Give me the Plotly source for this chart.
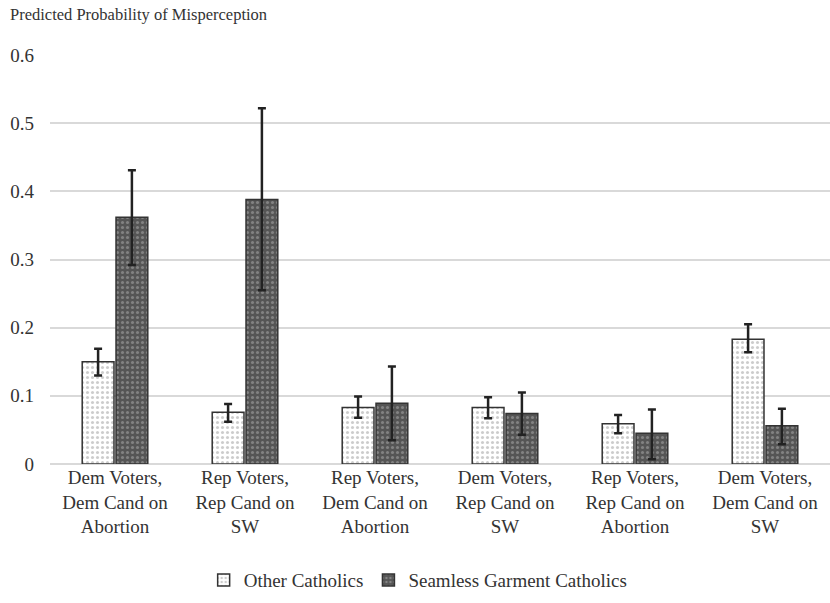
import plotly.graph_objects as go

categories = ["Dem Voters,<br>Dem Cand on<br>Abortion", "Rep Voters,<br>Rep Cand on<br>SW",
              "Rep Voters,<br>Dem Cand on<br>Abortion", "Dem Voters,<br>Rep Cand on<br>SW",
              "Rep Voters,<br>Rep Cand on<br>Abortion", "Dem Voters,<br>Dem Cand on<br>SW"]
other = [0.150, 0.076, 0.083, 0.083, 0.059, 0.183]
other_hi = [0.169, 0.088, 0.099, 0.098, 0.072, 0.205]
other_lo = [0.130, 0.062, 0.068, 0.067, 0.045, 0.164]
seam = [0.362, 0.388, 0.089, 0.074, 0.045, 0.056]
seam_hi = [0.431, 0.522, 0.143, 0.105, 0.080, 0.081]
seam_lo = [0.292, 0.255, 0.035, 0.043, 0.007, 0.029]

font = "Liberation Serif, Times New Roman, serif"

def err(v, hi, lo):
    return dict(type="data", symmetric=False,
                array=[h - x for h, x in zip(hi, v)],
                arrayminus=[x - l for x, l in zip(v, lo)],
                color="#222222", thickness=2.5, width=4)

fig = go.Figure()
fig.add_trace(go.Bar(x=categories, y=other, name="Other Catholics",
                     marker=dict(color="white", line=dict(color="#333333", width=1.5),
                                 pattern=dict(shape=".", fgcolor="#9a9a9a", bgcolor="white",
                                              size=5, solidity=0.3)),
                     error_y=err(other, other_hi, other_lo)))
fig.add_trace(go.Bar(x=categories, y=seam, name="Seamless Garment Catholics",
                     marker=dict(color="#555555", line=dict(color="#333333", width=1.5),
                                 pattern=dict(shape=".", fgcolor="#b0b0b0", bgcolor="#555555",
                                              size=5, solidity=0.3)),
                     error_y=err(seam, seam_hi, seam_lo)))

fig.update_layout(
    width=830, height=603,
    margin=dict(l=50, r=0, t=55, b=139),
    paper_bgcolor="white", plot_bgcolor="white",
    barmode="group", bargap=0.48, bargroupgap=0.06,
    font=dict(family=font, size=19, color="#333333"),
    showlegend=True,
    legend=dict(orientation="h", x=0.472, xanchor="center", y=-0.284, yanchor="middle",
                font=dict(family=font, size=19, color="#333333"), itemwidth=30,
                traceorder="normal"),
    annotations=[dict(text="Predicted Probability of Misperception", xref="paper", yref="paper",
                      x=-0.054, y=1.1, xanchor="left", yanchor="middle", showarrow=False,
                      font=dict(family=font, size=16.5, color="#333333"))],
)
fig.update_yaxes(range=[0, 0.6], tickvals=[0, 0.1, 0.2, 0.3, 0.4, 0.5, 0.6],
                 ticktext=["0", "0.1", "0.2", "0.3", "0.4", "0.5", "0.6"],
                 showgrid=True, gridcolor="#d9d9d9", gridwidth=1.5, zeroline=True,
                 zerolinecolor="#d9d9d9", zerolinewidth=1.5, showline=False,
                 ticks="", ticklabelstandoff=15)
fig.update_xaxes(showline=False, ticks="", showgrid=False, tickangle=0)

fig.write_html("out.html")
